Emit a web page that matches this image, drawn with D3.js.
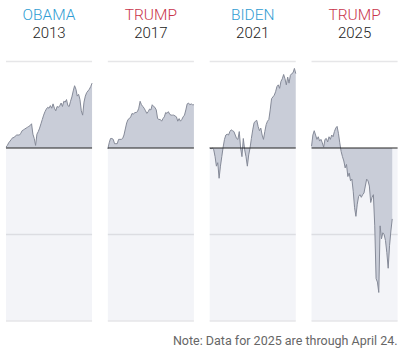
<!DOCTYPE html>
<html>
<head>
<meta charset="utf-8">
<script src="https://cdn.jsdelivr.net/npm/d3@7"></script>
<style>
  body { margin: 0; background: #fff; }
  text { font-family: Roboto, "Noto Sans", sans-serif; }
</style>
</head>
<body>
<script>
// Chart size
const svgWidth = 410;
const svgHeight = 361;

// Panel titles
const presidents = ["OBAMA", "TRUMP", "BIDEN", "TRUMP"];
const years = ["2013", "2017", "2021", "2025"];
const parties = ["D", "R", "D", "R"];

// Percent change since inauguration, one value per trading day
const obama2013 = [0.1, 0.3, 0.6, 0.8, 1.0, 1.2, 1.2, 1.4, 1.5, 1.5, 1.5, 1.7, 2.0, 2.1, 2.2, 2.3,
  2.4, 2.5, 2.6, 2.8, 1.6, 1.1, 0.3, 1.6, 1.9, 2.3, 2.8, 3.3, 3.8, 4.2, 4.5, 4.7, 4.6, 4.9, 4.6,
  5.1, 4.6, 4.3, 4.8, 4.7, 4.9, 5.2, 4.8, 5.4, 5.3, 5.6, 4.9, 4.8, 5.4, 5.9, 6.6, 7.2, 6.8, 6.0,
  6.2, 5.6, 4.3, 3.8, 5.3, 6.0, 6.4, 6.6, 6.8, 7.1, 7.5];
const trump2017 = [-0.1, 0.6, 1.1, 1.1, 1.0, 0.5, 0.5, 0.5, 1.0, 1.0, 1.0, 1.1, 1.5, 2.2, 2.9, 3.3,
  3.4, 3.6, 4.0, 3.9, 4.1, 4.1, 4.2, 4.6, 5.4, 5.0, 4.8, 4.6, 4.3, 4.0, 4.2, 4.5, 4.4, 5.0, 4.8,
  4.7, 4.4, 3.4, 3.3, 3.3, 3.1, 3.4, 3.6, 4.1, 4.0, 4.2, 3.9, 3.8, 3.8, 3.8, 3.7, 3.6, 3.1, 3.4,
  3.1, 3.3, 3.6, 3.8, 4.4, 5.1, 5.2, 5.0, 5.1, 5.0, 5.0];
const biden2021 = [0, -0.1, 0, -0.2, -1.0, -2.1, -1.7, -3.5, -2.1, -1.0, 0.1, 1.0, 1.5, 1.6, 1.5,
  1.9, 2.1, 2.0, 1.9, 1.5, 1.1, 1.0, 1.9, 0, -1.0, 1.1, -0.2, -1.0, -2.1, -0.8, 0, 1.1, 2.1, 2.9,
  3.1, 3.2, 2.5, 2.0, 2.3, 1.5, 1.0, 1.9, 2.7, 3.1, 3.3, 4.4, 5.7, 5.9, 6.1, 6.5, 7.1, 7.3, 6.9,
  7.7, 8.0, 8.5, 8.0, 7.3, 8.2, 7.5, 8.4, 8.6, 8.7, 9.2, 8.6];
const trump2025 = [0.2, 1.5, 2.0, 1.5, 1.0, 1.3, 0.8, 1.0, 0.6, 0.1, 1.0, 1.1, 0.7, 1.3, 1.0, 1.5,
  1.3, 1.9, 2.3, 2.5, 1.7, 0.6, -0.4, -1.0, -1.5, -2.3, -1.9, -3.3, -2.9, -3.8, -3.6, -5.0, -6.9,
  -7.9, -6.5, -5.6, -5.4, -5.7, -5.4, -5.2, -4.4, -3.6, -3.8, -4.4, -6.3, -5.7, -5.4, -9.0, -15.1,
  -15.5, -16.7, -9.0, -10.5, -9.8, -10.0, -10.7, -12.1, -13.9, -11.3, -9.6, -8.2];

const seriesList = [obama2013, trump2017, biden2021, trump2025];

// Gridline values
const gridValues = [10, -10, -20];

// Trading days shown in a full panel
const fullDays = 64;

const partyColor = { D: "#2f9dd3", R: "#c9354b" };

let svg = d3.select("body")
  .append("svg")
  .attr("width", svgWidth)
  .attr("height", svgHeight);

// One band per president
let panelScale = d3.scaleBand()
  .domain(d3.range(presidents.length))
  .range([6, 397.6])
  .paddingInner(0.155);

let xScale = d3.scaleLinear()
  .domain([0, fullDays])
  .range([0, panelScale.bandwidth()]);

let yScale = d3.scaleLinear()
  .domain([-20, 10])
  .range([321, 61.5]);

let createArea = d3.area()
  .x((d, i) => xScale(i))
  .y0(yScale(0))
  .y1(d => yScale(d));

let createLine = d3.line()
  .x((d, i) => xScale(i))
  .y(d => yScale(d));

presidents.forEach(function(name, p) {
  let g = svg.append("g")
    .attr("transform", `translate(${panelScale(p)}, 0)`);
  let w = panelScale.bandwidth();

  // Shaded background below zero
  g.append("rect")
    .attr("x", 0)
    .attr("y", yScale(0))
    .attr("width", w)
    .attr("height", yScale(-20) - yScale(0))
    .attr("fill", "#f3f4f8");

  // Light gridlines
  g.selectAll(".grid")
    .data(gridValues)
    .enter()
    .append("line")
    .attr("x1", 0)
    .attr("x2", w)
    .attr("y1", d => yScale(d))
    .attr("y2", d => yScale(d))
    .attr("stroke", d => d === -10 ? "#dcdde2" : "#e6e6e8")
    .attr("stroke-width", 1.6);

  // Area and line
  g.append("path")
    .attr("d", createArea(seriesList[p]))
    .attr("fill", "#c9cdd8");

  g.append("path")
    .attr("d", createLine(seriesList[p]))
    .attr("fill", "none")
    .attr("stroke", "#858a98")
    .attr("stroke-width", 1)
    .attr("stroke-linejoin", "round");

  // Zero line
  g.append("line")
    .attr("x1", 0)
    .attr("x2", w)
    .attr("y1", yScale(0))
    .attr("y2", yScale(0))
    .attr("stroke", "#222")
    .attr("stroke-width", 1);

  // Titles
  g.append("text")
    .attr("x", w / 2)
    .attr("y", 20)
    .attr("text-anchor", "middle")
    .attr("font-size", 15.5)
    .attr("font-weight", 300)
    .attr("fill", partyColor[parties[p]])
    .text(name);

  g.append("text")
    .attr("x", w / 2)
    .attr("y", 37.5)
    .attr("text-anchor", "middle")
    .attr("font-size", 15)
    .attr("font-weight", 300)
    .attr("fill", "#222")
    .text(years[p]);
});

// Note
svg.append("text")
  .attr("x", 397.5)
  .attr("y", 345)
  .attr("text-anchor", "end")
  .attr("font-size", 12.5)
  .attr("fill", "#666")
  .text("Note: Data for 2025 are through April 24.");
</script>
</body>
</html>
